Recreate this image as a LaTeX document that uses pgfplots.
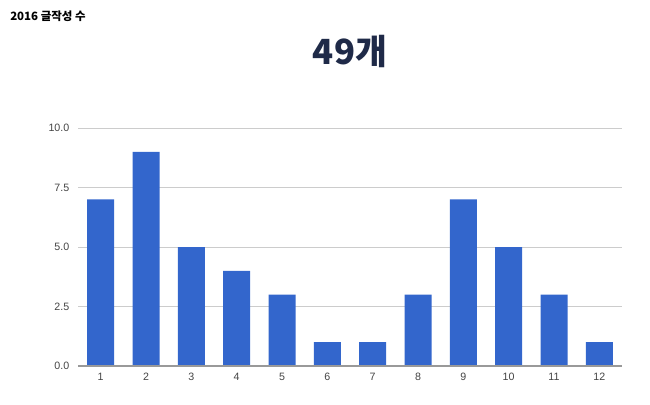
\documentclass[border=0pt]{standalone}
\usepackage{pgfplots}
\pgfplotsset{compat=1.18}
\usepackage{fontspec}
\setmainfont{Liberation Sans}
\newfontfamily\kr{Noto Sans CJK KR}
\definecolor{barblue}{HTML}{3366CC}
\definecolor{navy}{HTML}{1F2A48}
\definecolor{gridc}{HTML}{CCCCCC}
\definecolor{tickc}{HTML}{444444}
\begin{document}
\begin{tikzpicture}
\path[use as bounding box] (0pt,0pt) rectangle (487.5pt,303pt);
\node[anchor=west,inner sep=0pt,font=\kr\bfseries\fontsize{8.6pt}{10pt}\selectfont,text=black] at (7.5pt,291pt) {2016 글작성 수};
\node[anchor=center,inner sep=0pt,font=\kr\bfseries\fontsize{26pt}{30pt}\selectfont,text=navy] at (262.5pt,264pt) {49개};
\begin{axis}[
  at={(58.5pt,28.5pt)}, anchor=south west,
  scale only axis, width=408pt, height=178.5pt,
  xmin=0.5, xmax=12.5, ymin=0, ymax=10,
  axis line style={draw=none},
  xtick={1,...,12}, ytick={0,2.5,5,7.5,10},
  yticklabel style={/pgf/number format/fixed,/pgf/number format/precision=1,/pgf/number format/fixed zerofill},
  /pgf/number format/assume math mode=true,
  tick label style={font=\fontsize{8pt}{9pt}\selectfont,text=tickc},
  major tick length=0pt,
  ymajorgrids, grid style={draw=gridc, line width=0.6pt},
  yticklabel style={xshift=-3pt},
  xticklabel style={yshift=-2pt},
  ybar, bar width=20.25pt,
  clip=false,
]
\addplot[fill=barblue, draw=none] coordinates {
(1,7) (2,9) (3,5) (4,4) (5,3) (6,1) (7,1) (8,3) (9,7) (10,5) (11,3) (12,1)};
\draw[draw=gray!80, line width=0.8pt] (axis cs:0.5,0) -- (axis cs:12.5,0);
\end{axis}
\end{tikzpicture}
\end{document}
